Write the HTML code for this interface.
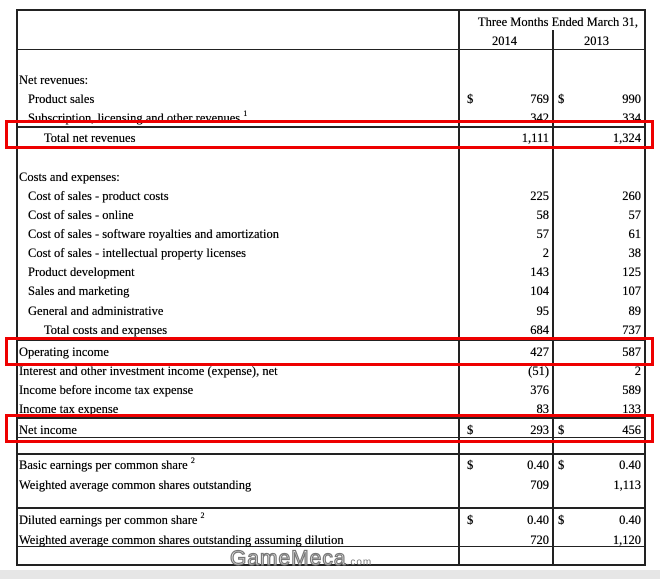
<!DOCTYPE html>
<html><head><meta charset="utf-8"><style>
body{margin:0;width:660px;height:579px;background:#fff;position:relative;overflow:hidden;font-family:"Liberation Serif",serif;font-size:12.5px;color:#000}
.h{position:absolute;height:1px;background:#222}
.v{position:absolute;width:2px;background:#222}
.t{position:absolute;white-space:nowrap;line-height:14px;text-shadow:0 0 0.4px #000}
.n{position:absolute;white-space:nowrap;line-height:14px;text-align:right;width:80px;text-shadow:0 0 0.4px #000}
.box{position:absolute;border:3px solid #e00;box-sizing:border-box}
sup{font-size:8px;vertical-align:6px;line-height:0}
</style></head><body>
<div style="position:absolute;left:0;top:570px;width:660px;height:9px;background:#e6e6e6"></div>
<div class="h" style="left:17px;top:9px;width:629px;height:2px"></div>
<div class="h" style="left:17px;top:564px;width:629px;height:2px"></div>
<div class="v" style="left:16px;top:9px;height:557px"></div>
<div class="v" style="left:644px;top:9px;height:557px"></div>
<div class="v" style="left:458px;top:9px;height:557px"></div>
<div class="v" style="left:552px;top:30px;height:536px"></div>
<div class="h" style="left:17px;top:49px;width:629px"></div>
<div class="h" style="left:17px;top:126px;width:629px;height:2px"></div>
<div class="h" style="left:17px;top:339px;width:629px;height:2px"></div>
<div class="h" style="left:17px;top:417px;width:629px;height:2px"></div>
<div class="h" style="left:17px;top:437px;width:629px"></div>
<div class="h" style="left:17px;top:441px;width:629px"></div>
<div class="h" style="left:17px;top:453px;width:629px;height:2px"></div>
<div class="h" style="left:17px;top:507px;width:629px;height:2px"></div>
<div class="h" style="left:17px;top:546px;width:629px"></div>

<div class="t" style="left:478px;top:15px">Three Months Ended March 31,</div>
<div class="t" style="left:492px;top:34px">2014</div>
<div class="t" style="left:584px;top:34px">2013</div>

<div id="rows"></div>

<div class="box" style="left:5px;top:120px;width:649px;height:29px"></div>
<div class="box" style="left:5px;top:337px;width:649px;height:29px"></div>
<div class="box" style="left:5px;top:414px;width:649px;height:29px"></div>
<div class="t" style="left:230px;top:552px;font-family:'Liberation Sans',sans-serif;font-size:21px;color:#f4f4f4;-webkit-text-stroke:1.2px #777;letter-spacing:1px;text-shadow:none">GameMeca<span style="font-size:10px;-webkit-text-stroke:0;color:#777">.com</span></div>

<script>
const labels=["Net revenues:","Product sales","Subscription, licensing and other revenues <sup>1</sup>","Total net revenues","Costs and expenses:","Cost of sales - product costs","Cost of sales - online","Cost of sales - software royalties and amortization","Cost of sales - intellectual property licenses","Product development","Sales and marketing","General and administrative","Total costs and expenses","Operating income","Interest and other investment income (expense), net","Income before income tax expense","Income tax expense","Net income","Basic earnings per common share <sup>2</sup>","Weighted average common shares outstanding","Diluted earnings per common share <sup>2</sup>","Weighted average common shares outstanding assuming dilution"];
const v2014=["","769","342","1,111","","225","58","57","2","143","104","95","684","427","(51)","376","83","293","0.40","709","0.40","720"];
const v2013=["","990","334","1,324","","260","57","61","38","125","107","89","737","587","2","589","133","456","0.40","1,113","0.40","1,120"];
const ys=[73,92,111,131,170,189,208,227,246,265,284,304,323,345,364,383,402,423,458,478,513,533];
const indent=[19,28,28,44,19,28,28,28,28,28,28,28,44,19,19,19,19,19,19,19,19,19];
const dollars=[1,17,18,20];
const root=document.getElementById('rows');
labels.forEach((l,i)=>{
 const a=document.createElement('div');a.className='t';a.style.left=indent[i]+'px';a.style.top=ys[i]+'px';a.innerHTML=l;
 
 
 root.appendChild(a);
 [v2014,v2013].forEach((arr,k)=>{
  if(!arr[i])return;
  const n=document.createElement('div');n.className='n';n.textContent=arr[i];
  n.style.top=ys[i]+'px';
  n.style.left=(k?641-80:549-80)+'px';
  
  
  root.appendChild(n);
  if(dollars.includes(i)){
   const d=document.createElement('div');d.className='t';d.textContent='$';d.style.left=(k?558:467)+'px';d.style.top=ys[i]+'px';
   
   
   root.appendChild(d);
  }
 });
});
</script>
</body></html>
